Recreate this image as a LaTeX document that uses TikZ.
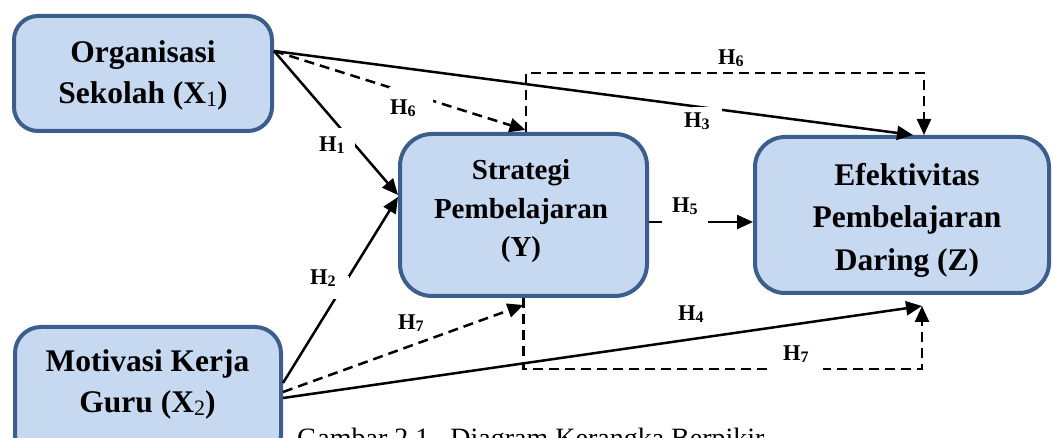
\documentclass[tikz,border=0pt]{standalone}
\usepackage{fontspec}
\setmainfont{Liberation Serif}
\usetikzlibrary{arrows.meta}
\definecolor{boxblue}{RGB}{59,94,140}
\definecolor{boxfill}{RGB}{198,217,241}
\newcommand{\xsub}[1]{\raisebox{-3pt}{\fontsize{22}{22}\selectfont\mdseries #1}}
\newcommand{\hlab}[1]{H\raisebox{-2pt}{\fontsize{16}{16}\selectfont #1}}
\begin{document}
\begin{tikzpicture}[x=1pt,y=-1pt,
 box/.style={draw=boxblue, fill=boxfill, line width=4pt, inner sep=0pt, outer sep=2pt},
 boxtext/.style={align=center, font=\fontsize{31.5}{41}\selectfont\bfseries, inner sep=0pt},
 conn/.style={line width=2.5pt, -{Triangle[length=16pt,width=14pt]}},
 dconn/.style={conn, dash pattern=on 10pt off 6pt},
 hl/.style={font=\fontsize{22.5}{22.5}\selectfont\bfseries, inner sep=0pt, anchor=base west},
 gap/.style={hl, fill=white},
]
\useasboundingbox (0,0) rectangle (1053,438);
\begin{scope}
\clip (0,0) rectangle (1053,438);
\fill[white] (0,0) rectangle (1053,438);
% boxes
\node[box, rounded corners=24pt, minimum width=258pt, minimum height=115pt] (x1) at (143,73.5) {};
\node[box, rounded corners=32pt, minimum width=247pt, minimum height=162pt] (y) at (523.5,215) {};
\node[box, rounded corners=30pt, minimum width=294pt, minimum height=156pt] (z) at (902,215) {};
\node[box, rounded corners=26pt, minimum width=266pt, minimum height=134pt] (x2) at (148,394) {};
% box texts
\node[boxtext] (x1t) at (143,75) {Organisasi\\Sekolah (X\xsub{1})};
\node[boxtext, font=\fontsize{29}{38.5}\selectfont\bfseries] (yt) at (521,211.3) {Strategi\\Pembelajaran\\(Y)};
\node[boxtext, font=\fontsize{31.5}{42.5}\selectfont\bfseries] (zt) at (907,220) {Efektivitas\\Pembelajaran\\Daring (Z)};
\node[boxtext] (x2t) at (147.5,384.5) {Motivasi Kerja\\Guru (X\xsub{2})};
% connectors
\draw[conn] ([yshift=22.5pt]x1.east) -- ([yshift=20pt]y.west);
\draw[dconn] ([yshift=22.5pt]x1.east) -- ([xshift=2pt,yshift=2pt]y.north);
\draw[conn] ([yshift=22.5pt]x1.east) -- ([xshift=11pt]z.north);
\draw[dconn] ([xshift=2.5pt]y.north) -- ++(0,-59) -| ([xshift=22pt]z.north);
\draw[conn] ([yshift=-7pt]y.east) -- ([yshift=-7pt]z.west);
\draw[conn] ([yshift=11pt]x2.east) -- ([yshift=18pt]y.west);
\draw[dconn] ([yshift=2pt]x2.east) -- ([yshift=-7pt]y.south);
\draw[dconn] (y.south) -- ++(0,71) -| ([xshift=20pt,yshift=-11pt]z.south);
\draw[conn] ([yshift=-4pt]x2.east) -- ([xshift=20pt,yshift=-11pt]z.south);
% labels
\node[gap, text height=24pt, text depth=0pt] (h1) at (318,152) {\hspace*{1pt}\hlab{1}\hspace*{10pt}};
\node[gap, text height=9pt, text depth=14pt] (h2) at (308,285) {\hspace*{2pt}\hlab{2}\hspace*{13pt}};
\node[gap, text height=28pt, text depth=0pt] (h6m) at (389,115) {\hspace*{1pt}\hlab{6}\hspace*{17pt}};
\node[gap, text height=21pt, text depth=0pt] (h3) at (693,128) {\hspace*{-9pt}\hlab{3}\hspace*{12pt}};
\node[gap, text height=5pt, text depth=12pt] (h5) at (662,213) {\hspace*{10pt}\hlab{5}\hspace*{10pt}};
\node[gap, text height=5pt, text depth=10pt] (h7b) at (773,361) {\hspace*{10pt}\hlab{7}\hspace*{14pt}};
\node[hl] (h4) at (678,321) {\hlab{4}};
\node[hl] (h7a) at (398,330) {\hlab{7}};
\node[hl] (h6t) at (718,65) {\hlab{6}};
% caption
\node[anchor=base west, font=\fontsize{28}{28}\selectfont, inner sep=0pt] (cap) at (297,447) {Gambar 2.1.\ \ Diagram Kerangka Berpikir};
\end{scope}
\end{tikzpicture}
\end{document}
